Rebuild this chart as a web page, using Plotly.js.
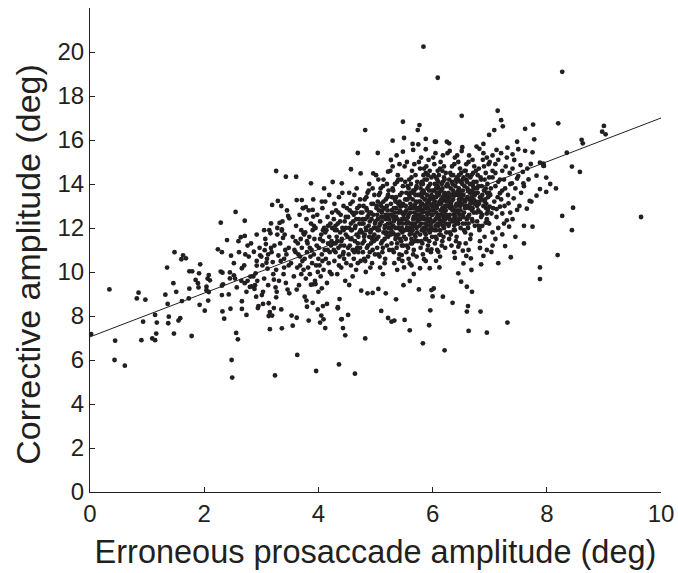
<!DOCTYPE html>
<html>
<head>
<meta charset="utf-8">
<script src="https://cdn.plot.ly/plotly-3.0.1.min.js"></script>
<style>html,body{margin:0;padding:0;background:#fff;}#chart{width:678px;height:573px;}</style>
</head>
<body>
<div id="chart"></div>
<script>
// [erroneous prosaccade amplitude, corrective amplitude] in deg
const sparseLeftPoints = [[0.02,7.18],[0.34,9.21],[0.44,6.88],[0.43,6.0],[0.61,5.74],[0.82,8.8],[0.85,9.06],[0.97,8.74],[0.93,7.74],[0.9,6.9],[1.09,6.98],[1.14,6.9],[1.16,7.2],[1.14,8.05],[1.17,7.7],[1.32,8.97],[1.36,8.55],[1.35,10.2],[1.38,7.97],[1.37,7.67],[1.46,9.49],[1.48,10.9],[1.51,9.1],[1.47,7.2],[1.55,7.79],[1.58,7.9],[1.6,10.58],[1.63,10.76],[1.68,10.62],[1.61,8.68],[1.74,10.03],[1.79,10.03],[1.74,9.24],[1.73,8.8],[1.78,7.09],[1.85,9.64],[1.89,9.49],[1.9,9.3],[1.93,10.35],[1.91,9.94],[1.92,8.51]];
const leftMidPoints = [[2.01,8.24],[2.04,9.33],[2.06,9.7],[2.08,9.86],[2.1,9.62],[2.04,9.17],[2.08,9.09],[2.07,8.7],[2.24,11.03],[2.29,12.24],[2.31,10.9],[2.29,10.02],[2.32,9.97],[2.31,9.38],[2.33,9.44],[2.31,8.95],[2.32,8.21],[2.35,7.88],[2.4,11.45],[2.43,8.98],[2.47,10.74],[2.45,9.98],[2.45,9.71],[2.52,9.85],[2.54,9.7],[2.46,8.33],[2.48,6.0],[2.49,5.2],[2.55,12.73],[2.56,7.23],[2.59,6.94],[2.64,11.58],[2.66,10.17],[2.66,8.67],[2.66,8.32],[2.71,12.33],[2.71,11.64],[2.72,10.8],[2.71,9.49],[2.74,8.05],[2.76,11.2],[2.76,9.6],[2.8,9.32],[2.81,9.79],[2.83,9.35],[2.87,10.92],[2.88,9.23],[2.89,9.4],[2.9,9.94],[2.92,11.7],[2.92,10.5],[2.92,10.29],[2.94,8.36],[2.91,8.88],[2.95,8.45],[2.98,10.76],[3.0,10.7],[3.01,8.95],[3.03,8.55],[3.03,9.1],[3.06,10.99],[3.08,11.27],[3.09,10.42],[3.11,10.15],[3.13,8.58],[3.15,8.18],[3.13,8.0],[3.15,7.4],[3.16,11.76],[3.17,12.21],[3.17,11.09],[3.19,13.05],[3.19,8.02],[3.2,10.45],[3.22,9.65],[3.22,8.36],[3.24,5.3],[3.25,9.3],[3.27,9.1],[3.26,8.85],[3.29,13.23],[3.3,10.75],[3.32,12.23],[3.33,11.3],[3.35,8.3],[3.36,11.88],[3.36,7.44],[3.38,11.55],[3.4,10.2],[3.42,11.0],[3.43,9.5],[3.47,12.55],[3.49,12.44],[3.48,11.1],[3.49,9.03],[3.26,14.59],[3.43,14.33],
[3.02,10.3],[3.05,9.7],[3.07,11.5],[3.1,10.6],[3.12,9.4],[3.14,11.9],[3.18,10.9],[3.21,9.9],[3.23,11.2],[3.26,10.1],[3.28,12.0],[3.31,9.6],[3.34,10.5],[3.37,12.3],[3.39,9.9],[3.41,11.7],[3.44,10.8],[3.46,9.2],[3.48,10.3],[3.45,12.8],[3.35,13.0],[3.28,11.7],[3.12,10.8],[3.05,11.9],[3.4,10.6],
[2.52,10.4],[2.57,9.3],[2.61,10.9],[2.65,9.6],[2.7,10.3],[2.74,9.1],[2.78,10.7],[2.82,11.3],[2.86,9.8],[2.93,9.6],[2.97,11.1],[2.6,11.4],
[3.62,13.27],[3.71,13.27],[3.73,12.9],[3.78,12.95],[3.9,12.82],[4.06,13.2],[4.19,13.5],[3.74,11.76],[3.91,12.52],[3.36,11.94]];
const lowerTailPoints = [[3.53,8.02],[3.55,7.56],[3.62,7.92],[3.63,6.23],[3.8,8.42],[3.83,7.79],[3.9,8.6],[3.96,5.5],[3.99,8.3],[4.05,8.02],[4.09,7.85],[4.08,8.45],[4.12,7.45],[4.15,8.55],[4.34,8.35],[4.36,5.8],[4.4,7.85],[4.64,5.38],[4.82,6.98],[4.43,7.45],[4.47,7.12],[4.41,7.86],[4.52,8.05],[4.34,8.4],[4.37,8.77],[4.03,7.7],[3.76,8.88],[3.79,8.7],[3.91,9.44],[3.95,9.45],[3.87,9.42],[4.06,9.26],[4.0,9.1],[4.54,9.41],[4.75,9.15],[4.86,9.03],[5.05,9.23],[4.95,9.05],[5.18,9.03],[5.1,8.23],[5.22,7.91],[5.28,7.74],[5.33,7.79],[5.51,7.82],[5.6,7.35],[5.36,8.76],[5.83,6.76],[5.94,7.58],[5.96,8.26],[6.0,8.89],[6.18,8.88],[6.21,6.44],[6.35,8.6],[6.6,8.2],[6.62,8.45],[6.63,7.32],[6.84,8.2],[6.95,7.24],[7.31,7.7],[6.69,9.1],[6.6,9.33],[6.5,9.56],[6.45,9.94],[6.68,10.09],[6.85,10.35],[6.89,10.73],[7.03,10.91],[5.98,9.18],[6.02,9.25],[5.76,9.21],[6.12,10.21],[5.49,9.4],[5.6,9.59],[6.06,10.51],[5.95,10.17],[5.78,10.17],[5.67,9.91],[5.5,10.21],[5.6,10.39],[5.85,10.58],[6.39,10.64],[6.45,11.15],[6.53,10.97],[6.1,10.92],[5.98,11.03],[5.46,10.77],[6.67,10.62],[6.59,10.73],[6.54,10.39],[6.83,11.09]];
const rightClusterPoints = [[7.14,17.33],[7.2,16.9],[7.23,16.62],[7.08,16.45],[6.99,16.23],[7.62,16.51],[7.76,16.7],[7.78,16.03],[7.31,15.65],[7.48,15.92],[7.5,15.58],[7.62,15.51],[7.75,15.44],[7.43,15.09],[7.54,14.86],[7.72,14.91],[7.88,14.97],[7.95,14.82],[7.82,14.38],[7.99,14.29],[8.06,14.0],[8.16,13.8],[7.82,13.47],[7.88,13.77],[7.99,13.64],[7.68,14.21],[7.5,14.36],[7.36,14.0],[7.59,14.03],[7.39,14.03],[7.7,13.23],[7.73,13.2],[7.65,12.88],[7.48,12.82],[7.36,12.7],[7.22,12.66],[7.34,12.06],[7.6,12.1],[7.75,12.06],[7.22,11.71],[7.27,11.18],[7.37,10.67],[7.33,13.12],[7.18,12.97],[7.12,12.86],[7.0,12.97],[6.95,12.66],[7.01,13.5],[7.18,13.58],[7.03,12.66],[6.97,12.24],[6.93,12.24],[6.81,12.1],[7.94,14.83],[7.94,14.93],
[7.05,15.3],[7.1,14.9],[7.15,15.1],[7.22,14.6],[7.25,14.2],[7.28,14.8],[7.3,15.2],[7.35,14.5],[7.4,14.7],[7.45,13.8],[7.05,14.3],[7.1,13.9],[7.15,14.1],[7.2,13.3],[7.27,13.8],[7.32,13.5],[7.42,13.35],[7.55,13.6],[7.6,13.9],[7.48,14.25],[7.05,14.6],[7.0,15.0],[7.12,15.55],[7.2,15.4],[7.4,15.35],[7.58,14.55],[7.66,14.7],[7.52,13.0],[7.3,12.35],[7.12,12.5],[7.08,13.2],[7.15,12.0],[7.4,12.4],[7.05,11.8],[7.1,11.5],[7.25,12.2],[7.05,11.2],[7.45,11.6],[7.6,11.3],[7.15,10.4],[6.95,11.0]];
const outlierPoints = [[5.84,20.24],[6.09,18.83],[6.51,17.1],[8.27,19.1],[8.2,16.76],[9.0,16.64],[8.97,16.38],[9.03,16.26],[8.61,16.01],[8.63,15.85],[8.35,15.42],[8.44,14.79],[8.58,14.55],[8.46,12.92],[8.27,12.55],[8.44,11.9],[9.65,12.5],[8.19,10.77],[7.88,10.21],[7.88,9.68]];
const upperPoints = [[4.82,16.45],[4.69,15.41],[5.04,15.41],[5.3,15.97],[5.48,16.83],[5.77,16.68],[5.74,16.45],[5.5,16.09],[5.88,16.05],[6.04,15.92],[6.06,15.92],[6.25,15.92],[6.29,15.85],[5.65,15.82],[5.75,15.8],[5.48,15.47],[5.66,15.55],[5.88,15.58],[6.52,15.67],[6.77,15.7],[6.82,15.6],[6.89,15.82],[5.27,15.09],[5.22,14.56],[4.96,14.48],[4.74,14.48],[4.57,14.67],[4.25,14.09],[4.41,14.03],[4.1,13.8],[3.87,14.03],[3.61,14.33],[5.05,14.2],[5.37,15.3],[5.42,14.9]];
const coreLeftPoints = [[3.52,10.4],[3.55,11.6],[3.57,9.8],[3.6,10.9],[3.61,12.1],[3.63,10.2],[3.64,11.3],[3.66,9.4],[3.67,12.6],[3.68,10.7],[3.7,11.9],[3.7,9.9],[3.71,11.1],[3.72,10.5],[3.73,12.9],[3.58,11.0],[3.62,9.2],[3.65,10.8],[3.69,11.5],[3.74,10.1],
[3.76,10.6],[3.77,11.8],[3.78,9.7],[3.79,12.4],[3.8,10.9],[3.81,11.3],[3.82,10.2],[3.83,12.8],[3.84,11.6],[3.85,9.9],[3.86,10.7],[3.87,12.2],[3.88,11.0],[3.89,10.4],[3.9,11.9],[3.91,13.3],[3.92,10.8],[3.93,11.5],[3.94,9.6],[3.95,12.0],[3.96,10.3],[3.97,11.2],[3.98,12.6],[3.99,10.0],[3.8,11.4],
[4.01,11.1],[4.02,10.3],[4.03,12.3],[4.04,9.8],[4.05,11.7],[4.06,10.8],[4.07,12.9],[4.08,11.4],[4.09,10.1],[4.1,12.0],[4.11,11.0],[4.12,13.2],[4.13,10.6],[4.14,11.9],[4.15,9.5],[4.16,12.5],[4.17,11.3],[4.18,10.4],[4.19,11.6],[4.2,10.9],[4.21,12.2],[4.22,11.2],[4.23,9.9],[4.24,12.7],[4.03,11.5],[4.07,10.5],[4.12,11.8],[4.17,12.1],[4.2,10.0],[4.23,11.4],
[4.26,11.3],[4.27,12.4],[4.28,10.5],[4.29,11.9],[4.3,10.9],[4.31,12.8],[4.32,11.6],[4.33,9.9],[4.34,12.2],[4.35,11.1],[4.36,13.4],[4.37,10.7],[4.38,11.8],[4.39,12.6],[4.4,10.2],[4.41,11.5],[4.42,12.0],[4.43,10.8],[4.44,13.0],[4.45,11.2],[4.46,12.3],[4.47,9.6],[4.48,11.7],[4.49,10.4],[4.27,11.0],[4.3,12.1],[4.33,11.4],[4.36,10.3],[4.39,11.2],[4.42,13.6],[4.45,10.6],[4.48,12.5],[4.28,13.1],[4.35,12.7],[4.44,11.9],
[4.51,11.6],[4.52,12.5],[4.53,10.8],[4.54,12.0],[4.55,11.2],[4.56,13.1],[4.57,10.3],[4.58,11.9],[4.59,12.7],[4.6,11.0],[4.61,12.3],[4.62,10.6],[4.63,13.5],[4.64,11.4],[4.65,12.1],[4.66,10.1],[4.67,11.7],[4.68,12.9],[4.69,11.3],[4.7,10.9],[4.71,12.4],[4.72,11.8],[4.73,13.3],[4.74,10.5],[4.52,11.1],[4.55,12.8],[4.58,11.5],[4.6,9.8],[4.62,12.6],[4.65,11.0],[4.67,13.8],[4.7,11.6],[4.72,12.2],[4.54,13.6],[4.57,12.2],[4.63,10.9],[4.66,12.4],[4.69,10.4],[4.73,11.1],[4.74,12.7],
[4.76,11.8],[4.77,12.7],[4.78,10.9],[4.79,12.2],[4.8,11.4],[4.81,13.3],[4.82,10.5],[4.83,12.0],[4.84,12.9],[4.85,11.1],[4.86,12.5],[4.87,10.7],[4.88,13.7],[4.89,11.6],[4.9,12.3],[4.91,10.2],[4.92,11.9],[4.93,13.1],[4.94,11.5],[4.95,11.0],[4.96,12.6],[4.97,12.0],[4.98,13.5],[4.99,10.8],[4.77,11.3],[4.79,13.0],[4.81,11.7],[4.83,10.0],[4.85,12.8],[4.87,11.2],[4.89,14.0],[4.91,11.8],[4.93,12.4],[4.95,13.8],[4.97,11.4],[4.99,12.2],[4.78,12.4],[4.8,10.6],[4.84,11.9],[4.86,13.6],[4.88,12.1],[4.9,10.9],[4.92,12.7],[4.94,10.4],[4.96,11.6]];
const coreMidPoints = [[5.01,12.0],[5.02,12.9],[5.03,11.1],[5.04,12.4],[5.05,11.6],[5.06,13.5],[5.07,10.7],[5.08,12.2],[5.09,13.1],[5.1,11.3],[5.11,12.7],[5.12,10.9],[5.13,13.9],[5.14,11.8],[5.15,12.5],[5.16,10.4],[5.17,12.1],[5.18,13.3],[5.19,11.7],[5.2,11.2],[5.21,12.8],[5.22,12.2],[5.23,13.7],[5.24,11.0],[5.02,11.5],[5.04,13.2],[5.06,11.9],[5.08,10.2],[5.1,13.0],[5.12,11.4],[5.14,14.2],[5.16,12.0],[5.18,12.6],[5.2,14.0],[5.22,11.6],[5.24,12.4],[5.03,12.6],[5.05,10.8],[5.07,12.1],[5.09,13.8],[5.11,12.3],[5.13,11.1],[5.15,12.9],[5.17,10.6],[5.19,11.8],[5.21,13.4],[5.23,12.0],[5.01,14.4],[5.13,9.9],[5.2,12.5],
[5.26,12.2],[5.27,13.1],[5.28,11.3],[5.29,12.6],[5.3,11.8],[5.31,13.7],[5.32,10.9],[5.33,12.4],[5.34,13.3],[5.35,11.5],[5.36,12.9],[5.37,11.1],[5.38,14.1],[5.39,12.0],[5.4,12.7],[5.41,10.6],[5.42,12.3],[5.43,13.5],[5.44,11.9],[5.45,11.4],[5.46,13.0],[5.47,12.4],[5.48,13.9],[5.49,11.2],[5.27,11.7],[5.29,13.4],[5.31,12.1],[5.33,10.4],[5.35,13.2],[5.37,11.6],[5.39,14.4],[5.41,12.2],[5.43,12.8],[5.45,14.2],[5.47,11.8],[5.49,12.6],[5.28,12.8],[5.3,11.0],[5.32,12.3],[5.34,14.0],[5.36,12.5],[5.38,11.3],[5.4,13.1],[5.42,10.8],[5.44,12.0],[5.46,13.6],[5.48,12.2],[5.26,14.6],[5.38,10.1],[5.45,12.7],[5.3,14.8],[5.4,11.7],[5.35,12.0],[5.43,11.5],[5.47,10.5],
[5.51,12.4],[5.52,13.3],[5.53,11.5],[5.54,12.8],[5.55,12.0],[5.56,13.9],[5.57,11.1],[5.58,12.6],[5.59,13.5],[5.6,11.7],[5.61,13.1],[5.62,11.3],[5.63,14.3],[5.64,12.2],[5.65,12.9],[5.66,10.8],[5.67,12.5],[5.68,13.7],[5.69,12.1],[5.7,11.6],[5.71,13.2],[5.72,12.6],[5.73,14.1],[5.74,11.4],[5.52,11.9],[5.54,13.6],[5.56,12.3],[5.58,10.6],[5.6,13.4],[5.62,11.8],[5.64,14.6],[5.66,12.4],[5.68,13.0],[5.7,14.4],[5.72,12.0],[5.74,12.8],[5.53,13.0],[5.55,11.2],[5.57,12.5],[5.59,14.2],[5.61,12.7],[5.63,11.5],[5.65,13.3],[5.67,11.0],[5.69,12.2],[5.71,13.8],[5.73,12.4],[5.51,14.8],[5.63,10.3],[5.7,12.9],[5.55,15.0],[5.65,11.9],[5.6,12.2],[5.68,11.7],[5.72,10.7],[5.52,12.7],[5.58,13.8],[5.62,12.0],[5.66,13.6],[5.7,13.1],[5.74,13.5],[5.54,10.9],[5.64,11.3],[5.68,14.9],[5.73,11.8],
[5.76,12.6],[5.77,13.5],[5.78,11.7],[5.79,13.0],[5.8,12.2],[5.81,14.1],[5.82,11.3],[5.83,12.8],[5.84,13.7],[5.85,11.9],[5.86,13.3],[5.87,11.5],[5.88,14.5],[5.89,12.4],[5.9,13.1],[5.91,11.0],[5.92,12.7],[5.93,13.9],[5.94,12.3],[5.95,11.8],[5.96,13.4],[5.97,12.8],[5.98,14.3],[5.99,11.6],[5.77,12.1],[5.79,13.8],[5.81,12.5],[5.83,10.8],[5.85,13.6],[5.87,12.0],[5.89,14.8],[5.91,12.6],[5.93,13.2],[5.95,14.6],[5.97,12.2],[5.99,13.0],[5.78,13.2],[5.8,11.4],[5.82,12.7],[5.84,14.4],[5.86,12.9],[5.88,11.7],[5.9,13.5],[5.92,11.2],[5.94,12.4],[5.96,14.0],[5.98,12.6],[5.76,15.0],[5.88,10.5],[5.95,13.1],[5.8,15.2],[5.9,12.1],[5.85,12.4],[5.93,11.9],[5.97,10.9],[5.77,12.9],[5.83,14.0],[5.87,12.2],[5.91,13.8],[5.95,13.3],[5.99,13.7],[5.79,11.1],[5.89,11.5],[5.93,15.1],[5.98,12.0],[5.82,13.4],[5.86,14.2],[5.9,12.9],[5.94,11.4],[5.78,14.7],[5.84,12.0],[5.92,14.4],[5.96,12.4],[5.81,13.6],[5.87,13.0]];
const coreRightPoints = [[6.01,12.8],[6.02,13.7],[6.03,11.9],[6.04,13.2],[6.05,12.4],[6.06,14.3],[6.07,11.5],[6.08,13.0],[6.09,13.9],[6.1,12.1],[6.11,13.5],[6.12,11.7],[6.13,14.7],[6.14,12.6],[6.15,13.3],[6.16,11.2],[6.17,12.9],[6.18,14.1],[6.19,12.5],[6.2,12.0],[6.21,13.6],[6.22,13.0],[6.23,14.5],[6.24,11.8],[6.02,12.3],[6.04,14.0],[6.06,12.7],[6.08,11.0],[6.1,13.8],[6.12,12.2],[6.14,15.0],[6.16,12.8],[6.18,13.4],[6.2,14.8],[6.22,12.4],[6.24,13.2],[6.03,13.4],[6.05,11.6],[6.07,12.9],[6.09,14.6],[6.11,13.1],[6.13,11.9],[6.15,13.7],[6.17,11.4],[6.19,12.6],[6.21,14.2],[6.23,12.8],[6.01,15.2],[6.13,10.7],[6.2,13.3],[6.05,15.4],[6.15,12.3],[6.1,12.6],[6.18,12.1],[6.22,11.1],[6.02,13.1],[6.08,14.2],[6.12,12.4],[6.16,14.0],[6.2,13.5],[6.24,13.9],[6.04,11.3],[6.14,11.7],[6.18,15.3],[6.23,12.2],[6.07,13.6],[6.11,14.4],[6.15,13.1],[6.19,11.6],[6.03,14.9],[6.09,12.2],[6.17,14.6],[6.21,12.6],[6.06,13.8],[6.12,13.2],
[6.26,13.0],[6.27,13.9],[6.28,12.1],[6.29,13.4],[6.3,12.6],[6.31,14.5],[6.32,11.7],[6.33,13.2],[6.34,14.1],[6.35,12.3],[6.36,13.7],[6.37,11.9],[6.38,14.9],[6.39,12.8],[6.4,13.5],[6.41,11.4],[6.42,13.1],[6.43,14.3],[6.44,12.7],[6.45,12.2],[6.46,13.8],[6.47,13.2],[6.48,14.7],[6.49,12.0],[6.27,12.5],[6.29,14.2],[6.31,12.9],[6.33,11.2],[6.35,14.0],[6.37,12.4],[6.39,15.2],[6.41,13.0],[6.43,13.6],[6.45,15.0],[6.47,12.6],[6.49,13.4],[6.28,13.6],[6.3,11.8],[6.32,13.1],[6.34,14.8],[6.36,13.3],[6.38,12.1],[6.4,13.9],[6.42,11.6],[6.44,12.8],[6.46,14.4],[6.48,13.0],[6.26,15.4],[6.38,10.9],[6.45,13.5],[6.3,15.5],[6.4,12.5],[6.35,12.8],[6.43,12.3],[6.47,11.3],[6.27,13.3],[6.33,14.4],[6.37,12.6],[6.41,14.2],[6.45,13.7],[6.49,14.1],[6.29,11.5],[6.39,11.9],[6.43,15.3],[6.48,12.4],
[6.51,13.1],[6.52,14.0],[6.53,12.2],[6.54,13.5],[6.55,12.7],[6.56,14.6],[6.57,11.8],[6.58,13.3],[6.59,14.2],[6.6,12.4],[6.61,13.8],[6.62,12.0],[6.63,15.0],[6.64,12.9],[6.65,13.6],[6.66,11.5],[6.67,13.2],[6.68,14.4],[6.69,12.8],[6.7,12.3],[6.71,13.9],[6.72,13.3],[6.73,14.8],[6.74,12.1],[6.52,12.6],[6.54,14.3],[6.56,13.0],[6.58,11.3],[6.6,14.1],[6.62,12.5],[6.64,15.3],[6.66,13.1],[6.68,13.7],[6.7,15.1],[6.72,12.7],[6.74,13.5],[6.53,13.7],[6.55,11.9],[6.57,13.2],[6.59,14.9],[6.61,13.4],[6.63,12.2],[6.65,14.0],[6.67,11.7],[6.69,12.9],[6.71,14.5],[6.73,13.1],[6.51,15.5],[6.63,11.0],[6.7,13.6],
[6.76,13.2],[6.77,14.1],[6.78,12.3],[6.79,13.6],[6.8,12.8],[6.81,14.7],[6.82,11.9],[6.83,13.4],[6.84,14.3],[6.85,12.5],[6.86,13.9],[6.87,12.1],[6.88,15.1],[6.89,13.0],[6.9,13.7],[6.91,11.6],[6.92,13.3],[6.93,14.5],[6.94,12.9],[6.95,12.4],[6.96,14.0],[6.97,13.4],[6.98,14.9],[6.99,12.2],[6.77,12.7],[6.79,14.4],[6.81,13.1],[6.83,11.4],[6.85,14.2],[6.87,12.6],[6.89,15.4],[6.91,13.2],[6.93,13.8],[6.95,15.2],[6.97,12.8],[6.99,13.6],[6.78,13.8],[6.82,12.0],[6.86,13.3],[6.9,14.8]];
const coreDensePoints = [[4.32,11.9],[4.38,12.3],[4.44,10.9],[4.5,12.9],[4.56,11.5],[4.6,13.2],[4.64,12.0],[4.68,11.1],[4.72,13.0],[4.76,12.2],[4.8,11.6],[4.84,13.4],[4.88,12.6],[4.92,11.3],[4.96,13.1],[5.0,12.3],[5.04,11.9],[5.08,13.6],[5.12,12.8],[5.16,11.5],
[5.2,13.0],[5.24,12.6],[5.28,12.0],[5.3,13.8],[5.32,12.9],[5.34,11.7],[5.36,13.4],[5.38,12.4],[5.4,14.2],[5.42,13.2],[5.44,12.3],[5.46,11.2],[5.48,13.1],[5.5,12.7],[5.52,14.1],[5.54,12.2],[5.56,13.3],[5.58,11.9],[5.6,12.9],[5.62,14.0],
[5.64,13.0],[5.66,12.1],[5.68,12.7],[5.7,13.5],[5.72,13.9],[5.74,12.3],[5.76,13.2],[5.78,12.4],[5.8,14.0],[5.82,13.1],[5.84,12.5],[5.86,11.8],[5.88,13.3],[5.9,14.2],[5.92,12.9],[5.94,13.7],[5.96,12.1],[5.98,13.5],[6.0,12.6],[6.02,14.4],
[6.04,12.9],[6.06,13.4],[6.08,12.5],[6.1,14.1],[6.12,13.6],[6.14,12.8],[6.16,13.2],[6.18,12.3],[6.2,14.3],[6.22,13.4],[6.24,12.6],[6.26,14.0],[6.28,13.2],[6.3,12.4],[6.32,13.8],[6.34,12.9],[6.36,14.4],[6.38,13.5],[6.4,12.7],[6.42,14.1],
[6.44,13.1],[6.46,12.4],[6.48,13.6],[6.5,14.5],[6.52,13.3],[6.54,12.5],[6.56,13.9],[6.58,14.6],[6.6,13.0],[6.62,13.7],[6.64,12.6],[6.66,14.3],[6.68,13.4],[6.7,12.9],[6.72,14.1],[6.74,13.6],[6.76,14.6],[6.78,13.0],[6.8,13.9],[6.84,12.7],
[5.31,12.5],[5.43,13.0],[5.57,12.0],[5.61,13.6],[5.69,11.4],[5.73,12.9],[5.81,11.9],[5.85,14.7],[5.89,12.7],[5.97,11.9],[6.01,13.3],[6.05,12.1],[6.09,13.5],[6.13,12.2],[6.17,13.8],[6.21,12.9],[6.25,13.5],[6.29,12.2],[6.33,13.0],[6.37,13.6],
[6.41,12.2],[6.45,14.2],[6.49,12.8],[6.53,14.2],[6.57,12.9],[6.61,14.4],[6.65,13.3],[6.69,12.4],[6.73,13.8],[6.87,13.5],[6.91,14.2],[6.95,13.6],[6.99,14.3],[7.02,13.8],[7.06,12.9],[7.1,14.5],[7.14,13.4],[7.18,14.2],[7.22,13.7],[7.26,13.0],
[5.06,12.8],[5.14,13.2],[5.18,12.4],[5.22,13.5],[5.26,11.8],[5.34,12.7],[5.46,12.0],[5.5,11.6],[5.54,13.3],[5.66,13.7],[5.78,12.8],[5.92,12.3],[6.06,11.9],[6.2,12.7],[6.34,13.5],[6.46,13.3],[6.58,12.2],[6.7,14.0],[6.82,13.2],[6.94,13.1],
[4.4,11.4],[4.48,12.0],[4.58,11.9],[4.66,12.7],[4.74,11.9],[4.82,12.4],[4.9,12.7],[4.98,11.7],[5.02,13.0],[5.1,12.5],
[3.6,11.4],[3.68,10.3],[3.75,11.7],[3.85,11.1],[3.92,12.1],[4.0,10.6],[4.08,11.9],[4.16,11.0],[4.24,12.0],[4.3,11.3]];
// least-squares line, read at its two ends
const fitX = [0, 10];
const fitY = [7.05, 17.0];
const xTicks = [0, 2, 4, 6, 8, 10];
const yTicks = [0, 2, 4, 6, 8, 10, 12, 14, 16, 18, 20];

const allPoints = [].concat(sparseLeftPoints, leftMidPoints, lowerTailPoints, rightClusterPoints, outlierPoints, upperPoints, coreLeftPoints, coreMidPoints, coreRightPoints, coreDensePoints);
const erroneousAmp = allPoints.map(p => p[0]);
const correctiveAmp = allPoints.map(p => p[1]);

const ink = '#231f20';
const font = 'Liberation Sans, Arial, Helvetica, sans-serif';

const traces = [
  {x: erroneousAmp, y: correctiveAmp, type: 'scatter', mode: 'markers', cliponaxis: false,
   marker: {color: ink, size: 4.8, line: {width: 0}}, hoverinfo: 'skip'},
  {x: fitX, y: fitY, type: 'scatter', mode: 'lines', line: {color: ink, width: 1}, hoverinfo: 'skip'}
];

const layout = {
  width: 678, height: 573,
  margin: {l: 90, r: 17, t: 8, b: 81},
  paper_bgcolor: '#fff', plot_bgcolor: '#fff',
  showlegend: false,
  font: {family: font, color: ink, size: 24},
  xaxis: {
    range: [0, 10], tickvals: xTicks, ticktext: xTicks.map(String),
    ticks: 'inside', ticklen: 5, tickcolor: ink, tickwidth: 1,
    showline: true, linecolor: ink, linewidth: 1, showgrid: false, zeroline: false,
    tickfont: {family: font, size: 24, color: ink},
    title: {text: 'Erroneous prosaccade amplitude (deg)', font: {family: font, size: 32.5, color: ink}, standoff: 14}
  },
  yaxis: {
    range: [0, 22], tickvals: yTicks, ticktext: yTicks.map(String),
    ticks: 'inside', ticklen: 5, tickcolor: ink, tickwidth: 1,
    showline: true, linecolor: ink, linewidth: 1, showgrid: false, zeroline: false,
    tickfont: {family: font, size: 24, color: ink}
  },
  annotations: [{
    text: 'Corrective amplitude (deg)', xref: 'paper', yref: 'paper',
    x: -0.109, y: 0.471, xanchor: 'center', yanchor: 'middle', textangle: -90,
    showarrow: false, font: {family: font, size: 34, color: ink}
  }]
};

Plotly.newPlot('chart', traces, layout, {displayModeBar: false, staticPlot: true});
</script>
</body>
</html>
